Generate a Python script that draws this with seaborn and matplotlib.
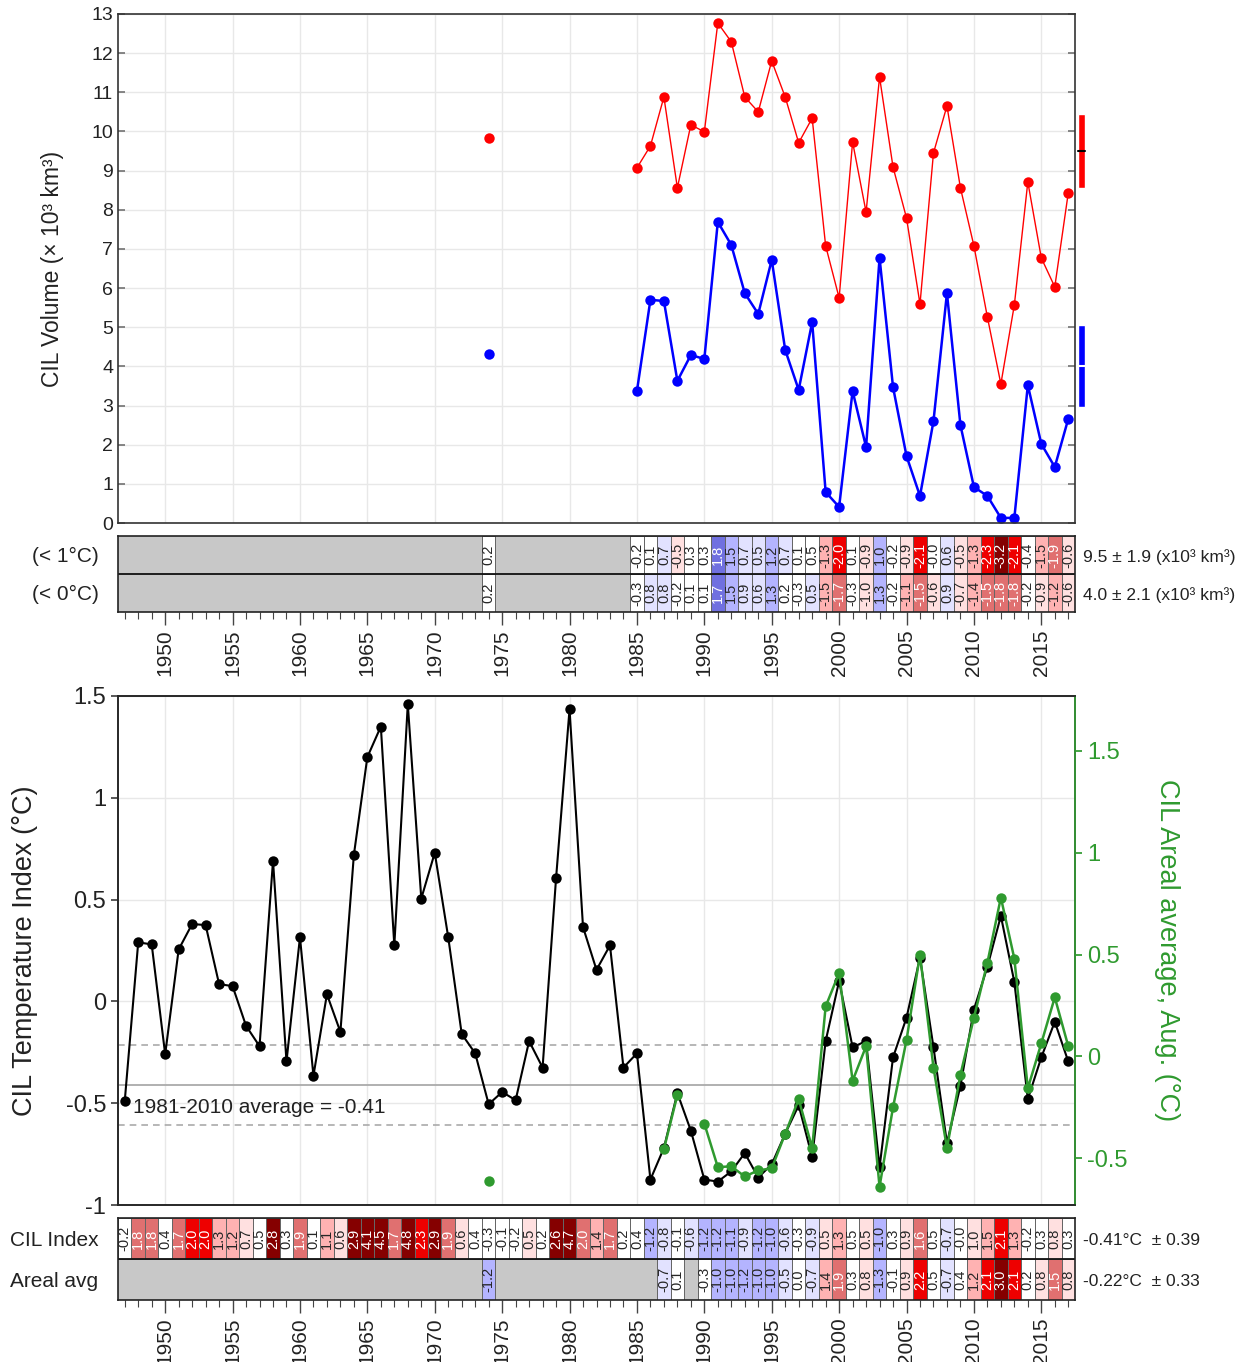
import numpy as np
import pandas as pd
import matplotlib
matplotlib.use("Agg")
import matplotlib.pyplot as plt
import matplotlib.transforms as mtransforms
from matplotlib.colors import ListedColormap, BoundaryNorm, to_rgba
import seaborn as sns

sns.set_theme(style="ticks")
plt.rcParams["font.family"] = ["Liberation Sans", "DejaVu Sans"]

# ---------------- data ----------------
years_all = list(range(1947, 2018))

vol_years = [1974] + list(range(1985, 2018))
vol_lt1 = [9.83, 9.07, 9.63, 10.88, 8.56, 10.17, 9.99, 12.77, 12.29, 10.88, 10.5,
           11.8, 10.88, 9.71, 10.34, 7.08, 5.75, 9.73, 7.94, 11.39, 9.09, 7.79,
           5.59, 9.45, 10.65, 8.56, 7.08, 5.26, 3.55, 5.57, 8.71, 6.77, 6.03, 8.43]
vol_lt0 = [4.32, 3.37, 5.7, 5.67, 3.63, 4.29, 4.19, 7.69, 7.1, 5.87, 5.34, 6.72,
           4.42, 3.4, 5.13, 0.79, 0.41, 3.37, 1.94, 6.77, 3.47, 1.71, 0.69, 2.6,
           5.87, 2.5, 0.92, 0.69, 0.13, 0.13, 3.52, 2.02, 1.43, 2.66]
vol_segment = [0] + [1] * 33
vol_mean = [9.5, 4.0]
vol_std = [1.9, 2.1]

# standardized anomalies shown in the volume scorecard
vol1_anom = [0.18, -0.22, 0.08, 0.72, -0.52, 0.33, 0.27, 1.78, 1.47, 0.72, 0.52,
             1.22, 0.72, 0.09, 0.47, -1.28, -2.02, 0.12, -0.86, 1.02, -0.22, -0.9,
             -2.08, -0.03, 0.6, -0.52, -1.28, -2.33, -3.16, -2.08, -0.42, -1.47,
             -1.88, -0.56]
vol0_anom = [0.18, -0.3, 0.8, 0.8, -0.2, 0.1, 0.1, 1.7, 1.48, 0.9, 0.6, 1.3, 0.2,
             -0.3, 0.52, -1.48, -1.7, -0.3, -0.98, 1.3, -0.2, -1.1, -1.52, -0.6,
             0.9, -0.7, -1.4, -1.52, -1.8, -1.8, -0.2, -0.9, -1.2, -0.6]

cil_temp = [-0.49, 0.29, 0.28, -0.26, 0.255, 0.38, 0.375, 0.085, 0.075, -0.12,
            -0.22, 0.69, -0.295, 0.315, -0.365, 0.035, -0.15, 0.72, 1.2, 1.35,
            0.275, 1.46, 0.505, 0.73, 0.315, -0.16, -0.255, -0.505, -0.445, -0.485,
            -0.195, -0.325, 0.605, 1.435, 0.365, 0.155, 0.275, -0.325, -0.255, -0.875,
            -0.72, -0.45, -0.635, -0.875, -0.885, -0.835, -0.745, -0.865, -0.80, -0.65,
            -0.51, -0.765, -0.195, 0.1, -0.225, -0.195, -0.815, -0.275, -0.08, 0.215,
            -0.225, -0.695, -0.415, -0.04, 0.17, 0.42, 0.095, -0.48, -0.275, -0.1, -0.295]
cil_mean = -0.41
cil_std = 0.39

areal_years = [1974, 1987, 1988] + list(range(1990, 2018))
areal_temp = [-0.61, -0.456, -0.19, -0.33, -0.544, -0.54, -0.59, -0.56, -0.55, -0.38,
              -0.21, -0.45, 0.245, 0.41, -0.12, 0.05, -0.64, -0.25, 0.08, 0.5,
              -0.055, -0.45, -0.09, 0.19, 0.46, 0.78, 0.48, -0.157, 0.064, 0.29, 0.05]
areal_segment = [0, 1, 1] + [2] * 28
areal_mean = -0.22
areal_std = 0.33

cil_anom = [-0.2, 1.8, 1.8, 0.4, 1.7, 2.02, 2.02, 1.3, 1.2, 0.7, 0.48, 2.8, 0.3, 1.9,
            0.1, 1.1, 0.6, 2.9, 4.1, 4.5, 1.7, 4.8, 2.3, 2.9, 1.9, 0.6, 0.4, -0.3,
            -0.1, -0.2, 0.52, 0.2, 2.6, 4.7, 1.97, 1.4, 1.7, 0.2, 0.4, -1.2, -0.8,
            -0.1, -0.6, -1.2, -1.2, -1.1, -0.9, -1.2, -1.02, -0.6, -0.3, -0.9, 0.54,
            1.3, 0.46, 0.54, -1.04, 0.3, 0.9, 1.6, 0.46, -0.7, -0.03, 0.96, 1.48, 2.1,
            1.3, -0.2, 0.3, 0.8, 0.3]
areal_anom = [-1.18, -0.7, 0.1, -0.3, -1.02, -1.02, -1.2, -1.02, -1.02, -0.52, 0.0,
              -0.7, 1.4, 1.9, 0.3, 0.8, -1.3, -0.1, 0.9, 2.2, 0.48, -0.7, 0.4, 1.2,
              2.1, 3.0, 2.1, 0.2, 0.8, 1.52, 0.8]

vol_labels = ["(< 1°C)", "(< 0°C)"]
vol_side_text = ["9.5 ± 1.9 (x10³ km³)", "4.0 ± 2.1 (x10³ km³)"]
cil_labels = ["CIL Index", "Areal avg"]
cil_side_text = ["-0.41°C  ± 0.39", "-0.22°C  ± 0.33"]

# ---------------- helpers ----------------
bounds = [-99, -2.5, -2, -1.5, -1, -0.5, 0.5, 1, 1.5, 2, 2.5, 99]
card_colors = ["#00008b", "#0000e6", "#7070e0", "#b4b4ff", "#e2e2ff", "#ffffff",
               "#ffe0e0", "#ffb2b2", "#e07070", "#ee0000", "#850000"]
cmap = ListedColormap(card_colors)
norm = BoundaryNorm(bounds, cmap.N)


def full_row(yrs, vals):
    d = dict(zip(yrs, vals))
    return [d.get(y, np.nan) for y in years_all]


def fmt_row(row):
    return ["" if np.isnan(v) else f"{v:.1f}" for v in row]


def draw_card(ax, rows, color_sign, ylabels, side_text):
    data = np.array(rows, dtype=float)
    mask = np.isnan(data)
    annot = np.array([fmt_row(r) for r in rows])
    cdata = pd.DataFrame(color_sign * data, columns=years_all)
    sns.heatmap(cdata, ax=ax, cmap=cmap, norm=norm, mask=mask,
                annot=annot, fmt="", cbar=False, linewidths=0.5,
                linecolor="#666666",
                annot_kws={"rotation": 90, "fontsize": 10.5})
    mesh = ax.collections[0]
    edge = to_rgba("#666666")
    mesh.set_edgecolor([(0, 0, 0, 0) if m else edge for m in mask.ravel()])
    ax.set_facecolor("#c8c8c8")
    for s in ax.spines.values():
        s.set_visible(True)
        s.set_color("#222222")
        s.set_linewidth(1.2)
    ax.axhline(1, color="#111111", lw=1.3)
    ax.set_yticks([0.55, 1.55])
    ax.set_yticklabels(ylabels, rotation=0, fontsize=15, color="#222222")
    ax.tick_params(axis="y", length=0, pad=14)
    major = [i + 0.5 for i, y in enumerate(years_all) if y % 5 == 0]
    ax.set_xticks(major)
    ax.set_xticklabels([str(y) for y in years_all if y % 5 == 0],
                       rotation=90, fontsize=15, color="#222222")
    ax.set_xticks([i + 0.5 for i in range(len(years_all))], minor=True)
    ax.tick_params(axis="x", which="major", bottom=True, length=9, width=1,
                   direction="out", color="#444444")
    ax.tick_params(axis="x", which="minor", bottom=True, length=5, width=0.8,
                   direction="out", color="#444444")
    ax.set_xlabel("")
    ax.set_ylabel("")
    tr = mtransforms.blended_transform_factory(ax.transAxes, ax.transData)
    for k, t in enumerate(side_text):
        ax.text(1.008, k + 0.55, t, transform=tr, va="center", ha="left",
                fontsize=12.5, color="#222222")


# ---------------- figure ----------------
W, H = 1259, 1362
fig = plt.figure(figsize=(W / 100, H / 100), dpi=100)


def axrect(x0, y0, x1, y1):
    return [x0 / W, 1 - y1 / H, (x1 - x0) / W, (y1 - y0) / H]


ax_vol = fig.add_axes(axrect(118, 14, 1075, 523))
ax_vcard = fig.add_axes(axrect(118, 536, 1075, 612))
ax_tmp = fig.add_axes(axrect(118, 696, 1075, 1205))
ax_ccard = fig.add_axes(axrect(118, 1218, 1075, 1300))

xlim = (1946.5, 2017.5)
grid_c = "#e8e8e8"

# ---- volume plot ----
vol_df = pd.DataFrame({"year": vol_years, "lt1": vol_lt1, "lt0": vol_lt0,
                       "seg": vol_segment})
sns.lineplot(data=vol_df, x="year", y="lt1", units="seg", estimator=None,
             color="#ff0000", lw=1.0, marker="o", markersize=7.5,
             markeredgewidth=0, ax=ax_vol, legend=False)
sns.lineplot(data=vol_df, x="year", y="lt0", units="seg", estimator=None,
             color="#0000ff", lw=1.8, marker="o", markersize=7.5,
             markeredgewidth=0, ax=ax_vol, legend=False)
ax_vol.set_xlim(*xlim)
ax_vol.set_ylim(0, 13)
ax_vol.set_yticks(range(0, 14))
ax_vol.set_xticks(range(1950, 2016, 5))
ax_vol.set_xticklabels([])
ax_vol.grid(True, color=grid_c, lw=1)
ax_vol.set_axisbelow(True)
ax_vol.tick_params(axis="x", length=0)
ax_vol.tick_params(axis="y", labelsize=14, direction="in", left=True, right=True,
                   length=5, color="#777777", labelcolor="#222222")
ax_vol.set_xlabel("")
ax_vol.set_ylabel("CIL Volume (× 10³ km³)", fontsize=16.5, color="#222222",
                  labelpad=20)
for s in ax_vol.spines.values():
    s.set_visible(True)
    s.set_color("#333333")
    s.set_linewidth(1.2)

# side bars: mean ± 0.5 std
side_df = pd.DataFrame({"x": [2018.0, 2018.0], "mean": vol_mean, "std": vol_std})
for k, c, tc in [(0, "#ff0000", "black"), (1, "#0000ff", "white")]:
    m, sd = side_df["mean"][k], side_df["std"][k]
    ax_vol.bar(side_df["x"][k], sd, bottom=m - sd / 2, width=0.5, color=c,
               clip_on=False, zorder=5)
    ax_vol.plot([side_df["x"][k] - 0.25, side_df["x"][k] + 0.25], [m, m],
                color=tc, lw=1.5, clip_on=False, zorder=6)

# ---- volume card ----
draw_card(ax_vcard,
          [full_row(vol_years, vol1_anom), full_row(vol_years, vol0_anom)],
          -1, vol_labels, vol_side_text)

# ---- temperature plot ----
tmp_df = pd.DataFrame({"year": years_all, "temp": cil_temp})
ax_tmp.axhline(cil_mean, color="#aaaaaa", lw=1.3, zorder=1)
ax_tmp.axhline(cil_mean + cil_std / 2, color="#aaaaaa", lw=1.2, ls=(0, (4, 3)), zorder=1)
ax_tmp.axhline(cil_mean - cil_std / 2, color="#aaaaaa", lw=1.2, ls=(0, (4, 3)), zorder=1)
sns.lineplot(data=tmp_df, x="year", y="temp", color="black", lw=1.5, marker="o",
             markersize=7.5, markeredgewidth=0, ax=ax_tmp, legend=False, zorder=3)
ax_tmp.set_xlim(*xlim)
ax_tmp.set_ylim(-1, 1.5)
yt = [-1, -0.5, 0, 0.5, 1, 1.5]
ax_tmp.set_yticks(yt)
ax_tmp.set_yticklabels(["-1", "-0.5", "0", "0.5", "1", "1.5"])
ax_tmp.set_xticks(range(1950, 2016, 5))
ax_tmp.set_xticklabels([])
ax_tmp.grid(True, color=grid_c, lw=1)
ax_tmp.set_axisbelow(True)
ax_tmp.tick_params(axis="x", length=0)
ax_tmp.tick_params(axis="y", labelsize=17, direction="out", length=5,
                   color="#444444", labelcolor="#222222")
ax_tmp.set_xlabel("")
ax_tmp.set_ylabel("CIL Temperature Index (°C)", fontsize=19.5, color="#222222",
                  labelpad=20)
ax_tmp.text(1947.6, -0.52, f"1981-2010 average = {cil_mean:.2f}", fontsize=15,
            va="center", ha="left", color="#222222")
for s in ax_tmp.spines.values():
    s.set_visible(True)
    s.set_color("#333333")
    s.set_linewidth(1.2)

green = "#2f9a2f"
ax_g = ax_tmp.twinx()
areal_df = pd.DataFrame({"year": areal_years, "temp": areal_temp, "seg": areal_segment})
sns.lineplot(data=areal_df, x="year", y="temp", units="seg", estimator=None,
             color=green, lw=1.8, marker="o", markersize=7.5, markeredgewidth=0,
             ax=ax_g, legend=False)
ax_g.set_xlim(*xlim)
ax_g.set_ylim(-0.73, 1.77)
ax_g.set_yticks([-0.5, 0, 0.5, 1, 1.5])
ax_g.set_yticklabels(["-0.5", "0", "0.5", "1", "1.5"])
ax_g.tick_params(axis="y", labelsize=17, colors=green, length=5, right=True)
ax_g.spines["right"].set_color(green)
ax_g.spines["right"].set_linewidth(1.2)
ax_g.set_ylabel("CIL Areal average, Aug. (°C)", fontsize=19.5, color=green,
                rotation=270, labelpad=38)
ax_g.set_xlabel("")
ax_g.grid(False)

# ---- temperature card ----
draw_card(ax_ccard,
          [cil_anom, full_row(areal_years, areal_anom)],
          1, cil_labels, cil_side_text)

fig.savefig("out.png", dpi=100)
